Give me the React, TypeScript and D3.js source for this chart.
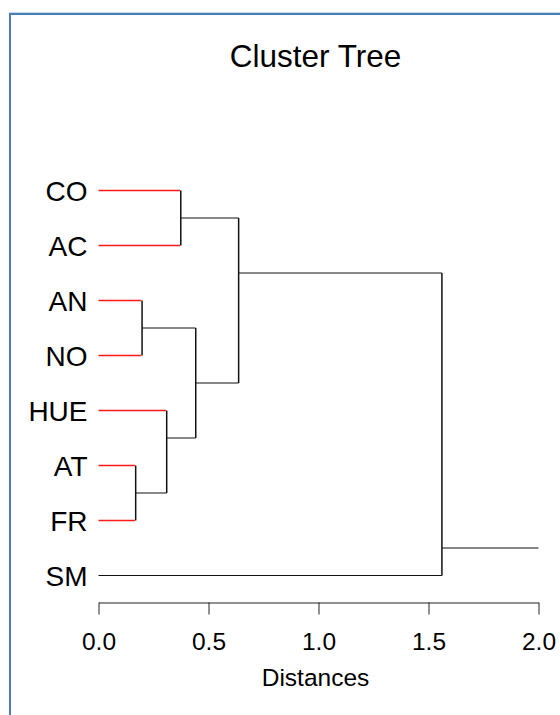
import React, { useEffect, useRef } from "react";
import * as d3 from "d3";

// Leaf labels in display order (top to bottom)
const leafLabels = ["CO", "AC", "AN", "NO", "HUE", "AT", "FR", "SM"];
// R-style merge matrix: negative = leaf (1-based), positive = earlier merge (1-based)
const mergeLeft = [-1, -3, -6, -5, 2, 1, 6];
const mergeRight = [-2, -4, -7, 3, 4, 5, -8];
const mergeHeight = [0.374, 0.198, 0.169, 0.31, 0.442, 0.637, 1.561];
const rootEnd = 2.0;
const axisTicks = [0, 0.5, 1.0, 1.5, 2.0];
const titleText = "Cluster Tree";
const xLabel = "Distances";

const FONT = "'Liberation Sans', Arial, Helvetica, sans-serif";
const W = 560;
const H = 715;

type Seg = { x1: number; x2: number; y1: number; y2: number; red: boolean; vert: boolean };

export default function App() {
  const axisRef = useRef<SVGGElement>(null);

  const x = d3.scaleLinear().domain([0, 2]).range([98.5, 538.5]);
  const y = d3.scaleLinear().domain([0, leafLabels.length - 1]).range([190.5, 575.5]);

  const nodeH: number[] = [];
  const nodePos: number[] = [];
  const nodeFirst: number[] = [];
  const nodeLast: number[] = [];
  const info = (ref: number) => {
    if (ref < 0) {
      const i = -ref - 1;
      return { h: 0, pos: i, first: i, last: i, leaf: true };
    }
    const j = ref - 1;
    return { h: nodeH[j], pos: nodePos[j], first: nodeFirst[j], last: nodeLast[j], leaf: false };
  };
  const lastMerge = mergeHeight.length - 1;
  const segs: Seg[] = [];
  for (let k = 0; k < mergeHeight.length; k++) {
    const h = mergeHeight[k];
    const L = info(mergeLeft[k]);
    const R = info(mergeRight[k]);
    nodeH.push(h);
    nodePos.push((L.last + R.first) / 2);
    nodeFirst.push(L.first);
    nodeLast.push(R.last);
    const children = [L, R];
    for (let c = 0; c < 2; c++) {
      const ch = children[c];
      segs.push({
        x1: x(ch.h),
        x2: x(h),
        y1: y(ch.pos),
        y2: y(ch.pos),
        red: ch.leaf && k !== lastMerge,
        vert: false,
      });
    }
    segs.push({ x1: x(h), x2: x(h), y1: y(L.pos), y2: y(R.pos), red: false, vert: true });
  }
  const rootI = nodeH.length - 1;
  segs.push({
    x1: x(nodeH[rootI]),
    x2: x(rootEnd),
    y1: y(nodePos[rootI]),
    y2: y(nodePos[rootI]),
    red: false,
    vert: false,
  });

  useEffect(() => {
    if (!axisRef.current) return;
    const g = d3.select(axisRef.current);
    g.selectAll("*").remove();
    g.call(
      d3
        .axisBottom(x)
        .tickValues(axisTicks)
        .tickFormat(d3.format(".1f"))
        .tickSize(12)
        .tickSizeOuter(0)
        .tickPadding(18.6)
    );
    g.selectAll("path.domain").attr("stroke", "#222").attr("stroke-width", 1);
    g.selectAll(".tick line").attr("stroke", "#222").attr("stroke-width", 1);
    g.selectAll(".tick text")
      .attr("fill", "#000")
      .style("font-family", FONT)
      .style("font-size", "24.5px");
  }, []);

  const blackSegs = segs.filter((s) => !s.red);
  const redSegs = segs.filter((s) => s.red);

  return (
    <svg
      width={W}
      height={H}
      style={{ position: "absolute", left: 0, top: 0, background: "#fff" }}
    >
      <rect x={0} y={0} width={W} height={H} fill="#fff" />
      {/* frame */}
      <line x1={9} x2={W} y1={12.5} y2={12.5} stroke="#c9d6e8" strokeWidth={1} />
      <line x1={9} x2={W} y1={14} y2={14} stroke="#4a7ebb" strokeWidth={2} />
      <line x1={10} x2={10} y1={13} y2={H} stroke="#4a7ebb" strokeWidth={2} />

      <text x={315.5} y={67} textAnchor="middle" fontFamily={FONT} fontSize={31.5} fill="#000">
        {titleText}
      </text>

      <g stroke="#111" fill="none">
        {blackSegs.map((s, i) => (
          <line key={"b" + i} x1={s.x1} x2={s.x2} y1={s.y1} y2={s.y2} strokeWidth={s.vert ? 1.5 : 1} />
        ))}
      </g>
      <g stroke="#ff1a1a" fill="none">
        {redSegs.map((s, i) => (
          <line key={"r" + i} x1={s.x1} x2={s.x2 - 0.75} y1={s.y1} y2={s.y2} strokeWidth={1.4} />
        ))}
      </g>

      {leafLabels.map((l, i) => (
        <text
          key={l}
          x={87.5}
          y={y(i) + 10}
          textAnchor="end"
          fontFamily={FONT}
          fontSize={28}
          fill="#000"
        >
          {l}
        </text>
      ))}

      <g ref={axisRef} transform={`translate(0,${602.5})`} />

      <text x={315.5} y={686} textAnchor="middle" fontFamily={FONT} fontSize={24.5} fill="#000">
        {xLabel}
      </text>
    </svg>
  );
}
